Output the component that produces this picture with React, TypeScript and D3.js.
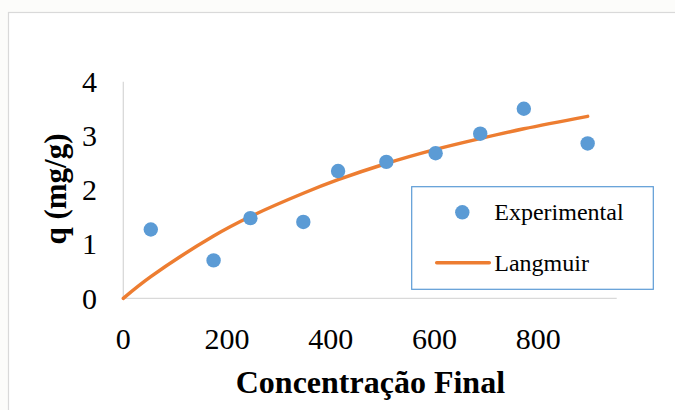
import React from "react";
import * as d3 from "d3";

// Experimental data
const expC = [53, 174, 245, 347, 414, 507, 602, 688, 772, 895];
const expQ = [1.27, 0.7, 1.48, 1.41, 2.35, 2.52, 2.68, 3.04, 3.5, 2.86];

// Langmuir model
const langC = [0, 53, 174, 245, 347, 414, 507, 602, 688, 772, 895];
const langQ = [0, 0.4, 1.15, 1.51, 1.94, 2.19, 2.49, 2.75, 2.95, 3.13, 3.36];

const xTicks = [0, 200, 400, 600, 800];
const yTicks = [0, 1, 2, 3, 4];
const xTitle = "Concentração Final";
const yTitle = "q (mg/g)";
const legendLabels = ["Experimental", "Langmuir"];

const W = 675;
const H = 410;
const FONT = "'Liberation Serif', 'Times New Roman', serif";
const BLUE = "#5b9bd5";
const ORANGE = "#ed7d31";
const AXIS = "#d9d9d9";
const X_MAX = 951;

export default function App() {
  const x = d3.scaleLinear().domain([0, X_MAX]).range([123.3, 616.7]);
  const y = d3.scaleLinear().domain([0, 4]).range([298.3, 81.7]);

  const line = d3
    .line<number>()
    .x((_, i) => x(langC[i]))
    .y((d) => y(d))
    .curve(d3.curveCatmullRom.alpha(0.5));

  return (
    <svg
      width={W}
      height={H}
      style={{ position: "absolute", left: 0, top: 0 }}
      fontFamily={FONT}
    >
      <rect x={0} y={0} width={W} height={H} fill="#fcfcfa" />
      <rect x={8.5} y={12.5} width={700} height={420} fill="#ffffff" stroke={AXIS} strokeWidth={1.2} />

      {/* axes */}
      <line x1={x(0)} x2={x(0)} y1={y(4)} y2={y(0)} stroke={AXIS} strokeWidth={1.3} />
      <line x1={x(0)} x2={x(X_MAX)} y1={y(0)} y2={y(0)} stroke={AXIS} strokeWidth={1.3} />

      {/* y tick labels */}
      {yTicks.map((t) => (
        <text key={"y" + t} x={97} y={y(t)} dy="0.34em" textAnchor="end" fontSize={30} fill="#000">
          {t}
        </text>
      ))}
      {/* x tick labels */}
      {xTicks.map((t) => (
        <text key={"x" + t} x={x(t)} y={349} textAnchor="middle" fontSize={30} fill="#000">
          {t}
        </text>
      ))}

      {/* axis titles */}
      <text x={370.4} y={393} textAnchor="middle" fontSize={32} fontWeight="bold" fill="#000">
        {xTitle}
      </text>
      <text
        transform={`translate(66, 189) rotate(-90)`}
        textAnchor="middle"
        fontSize={31}
        fontWeight="bold"
        fill="#000"
      >
        {yTitle}
      </text>

      {/* Langmuir line */}
      <path d={line(langQ) || ""} fill="none" stroke={ORANGE} strokeWidth={3.5} strokeLinecap="round" />

      {/* experimental points */}
      {expC.map((c, i) => (
        <circle key={"p" + i} cx={x(c)} cy={y(expQ[i])} r={7.2} fill={BLUE} />
      ))}

      {/* legend */}
      <rect x={411.7} y={186.7} width={241.6} height={102.6} fill="#ffffff" stroke={BLUE} strokeWidth={1.2} />
      <circle cx={462.3} cy={212.3} r={7.2} fill={BLUE} />
      <text x={494.3} y={220} fontSize={24} fill="#000">
        {legendLabels[0]}
      </text>
      <line x1={436.7} x2={489.3} y1={262.7} y2={262.7} stroke={ORANGE} strokeWidth={3.5} strokeLinecap="round" />
      <text x={494.3} y={270.7} fontSize={24} fill="#000">
        {legendLabels[1]}
      </text>
    </svg>
  );
}
